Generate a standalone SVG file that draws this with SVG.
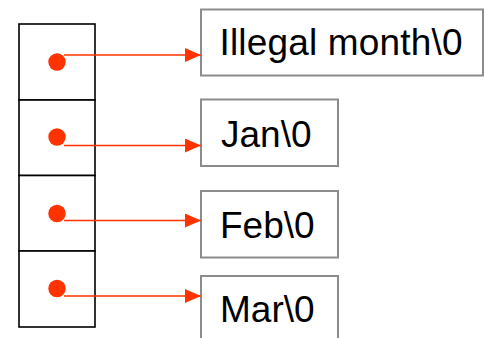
<svg xmlns="http://www.w3.org/2000/svg" width="484" height="338" viewBox="0 0 484 338">
  <style>
    .cell { fill: #ffffff; stroke: #000000; stroke-width: 1.6; }
    .dot { fill: #ff3300; }
    .str { fill: #ffffff; stroke: #8c8c8c; stroke-width: 2; }
    .lbl { font-family: "Liberation Sans", Arial, sans-serif; font-size: 37px; fill: #000000; }
    .ptr { stroke: #ff3300; stroke-width: 1.7; fill: none; marker-end: url(#head); }
  </style>
  <defs>
    <marker id="head" markerUnits="userSpaceOnUse" markerWidth="16" markerHeight="14" refX="16" refY="7" orient="auto">
      <path d="M0,0 L16,7 L0,14 Z" fill="#ff3300"/>
    </marker>
  </defs>
  <rect width="484" height="338" fill="#ffffff"/>

  <!-- pointer array cells -->
  <g id="cell0"><rect class="cell" x="19" y="24" width="76" height="76"/><circle class="dot" cx="57" cy="62" r="8.7"/></g>
  <g id="cell1"><rect class="cell" x="19" y="100" width="76" height="75.5"/><circle class="dot" cx="57" cy="137" r="8.7"/></g>
  <g id="cell2"><rect class="cell" x="19" y="175.5" width="76" height="75.5"/><circle class="dot" cx="57" cy="213.5" r="8.7"/></g>
  <g id="cell3"><rect class="cell" x="19" y="251" width="76" height="76"/><circle class="dot" cx="57" cy="288.5" r="8.7"/></g>

  <!-- string boxes -->
  <g id="str0"><rect class="str" x="201" y="9.5" width="282" height="66"/><text class="lbl" x="219.5" y="55" textLength="243">Illegal month\0</text></g>
  <g id="str1"><rect class="str" x="201" y="99.5" width="137" height="66.5"/><text class="lbl" x="221" y="147">Jan\0</text></g>
  <g id="str2"><rect class="str" x="201" y="191" width="137" height="66.5"/><text class="lbl" x="220" y="238">Feb\0</text></g>
  <g id="str3"><rect class="str" x="201" y="276" width="137" height="70"/><text class="lbl" x="220" y="322">Mar\0</text></g>

  <!-- pointers -->
  <g id="connectors">
    <line class="ptr" x1="64" y1="55" x2="201" y2="55"/>
    <line class="ptr" x1="64" y1="145.5" x2="201" y2="145.5"/>
    <line class="ptr" x1="64" y1="220.5" x2="201" y2="220.5"/>
    <line class="ptr" x1="64" y1="296" x2="201" y2="296"/>
  </g>
</svg>
